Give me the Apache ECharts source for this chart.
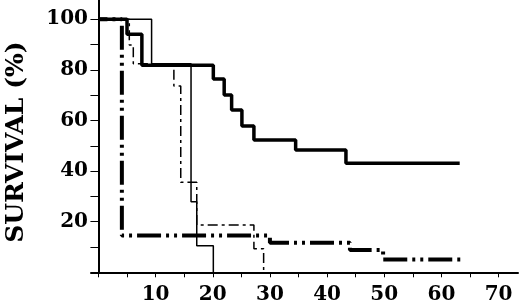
<!DOCTYPE html>
<html><head><meta charset="utf-8">
<script src="https://cdn.jsdelivr.net/npm/echarts@6/dist/echarts.min.js"></script>
<style>html,body{margin:0;padding:0;background:#fff}#c{width:520px;height:307px}</style>
</head><body><div id="c"></div>
<script>
// Kaplan-Meier style step curves (time, survival %)
const timesA = [0, 5.0, 7.6, 20.1, 22.0, 23.3, 25.1, 27.2, 34.5, 43.3, 63.2];
const survA  = [100, 94.1, 81.8, 76.4, 70.1, 64.1, 57.8, 52.3, 48.3, 43.1, 43.1];
const timesB = [0, 9.3, 16.2, 17.2, 20.1];
const survB  = [100, 82.4, 27.9, 10.5, 0];
const timesC = [0, 4.1, 30.0, 44.0, 49.8, 63.4];
const survC  = [100, 14.5, 11.7, 8.8, 5.1, 5.1];
const timesD = [0, 5.4, 6.1, 13.2, 14.4, 17.2, 27.2, 28.9];
const survD  = [100, 89.8, 82.4, 73.6, 35.6, 18.7, 9.3, 0];
const xTicks = [0, 5, 10, 15, 20, 25, 30, 35, 40, 45, 50, 55, 60, 65, 70];
const xLabels = [10, 20, 30, 40, 50, 60, 70];
const yTicks = [10, 20, 30, 40, 50, 60, 70, 80, 90, 100];
const yLabels = [20, 40, 60, 80, 100];
const yName = 'SURVIVAL (%)';

const pair = (t, s) => t.map((v, i) => [v, s[i]]);
const font = 'DejaVu Serif';
const chart = echarts.init(document.getElementById('c'), null, {renderer: 'canvas'});
chart.setOption({
  animation: false,
  backgroundColor: '#fff',
  grid: {left: 91, right: 2, top: 0, bottom: 34.7, containLabel: false, outerBoundsMode: 'none'},
  xAxis: {
    type: 'value', min: -1.3, max: 73.4,
    axisLine: {show: true, onZero: true, lineStyle: {color: '#000', width: 2}},
    axisTick: {show: true, length: 5, customValues: xTicks, lineStyle: {color: '#000', width: 1}},
    axisLabel: {customValues: xLabels, margin: 12, color: '#000', fontFamily: font, fontWeight: 'bold', fontSize: 20},
    splitLine: {show: false}
  },
  yAxis: {
    type: 'value', min: 0, max: 107.6,
    name: yName, nameLocation: 'middle', nameGap: 62,
    nameTextStyle: {color: '#000', fontFamily: font, fontWeight: 'bold', fontSize: 25, padding: [0, 12, 0, 0]},
    axisLine: {show: true, onZero: true, lineStyle: {color: '#000', width: 2}},
    axisTick: {show: true, length: 8, customValues: yTicks, lineStyle: {color: '#000', width: 1}},
    axisLabel: {customValues: yLabels, margin: 3, color: '#000', fontFamily: font, fontWeight: 'bold', fontSize: 20},
    splitLine: {show: false}
  },
  series: [
    {type: 'line', step: 'end', data: pair(timesD, survD), showSymbol: false, z: 2,
     lineStyle: {color: '#000', width: 1.5, type: [10, 4, 3, 4]}},
    {type: 'line', step: 'end', data: pair(timesB, survB), showSymbol: false, z: 3,
     lineStyle: {color: '#000', width: 1.5, type: 'solid'}},
    {type: 'line', step: 'end', data: pair(timesC, survC), showSymbol: false, z: 4,
     lineStyle: {color: '#000', width: 4, type: [24, 5, 3, 5, 3, 5], dashOffset: 15}},
    {type: 'line', step: 'end', data: pair(timesA, survA), showSymbol: false, z: 5,
     lineStyle: {color: '#000', width: 3.5, type: 'solid'}}
  ]
});
</script>
</body></html>
